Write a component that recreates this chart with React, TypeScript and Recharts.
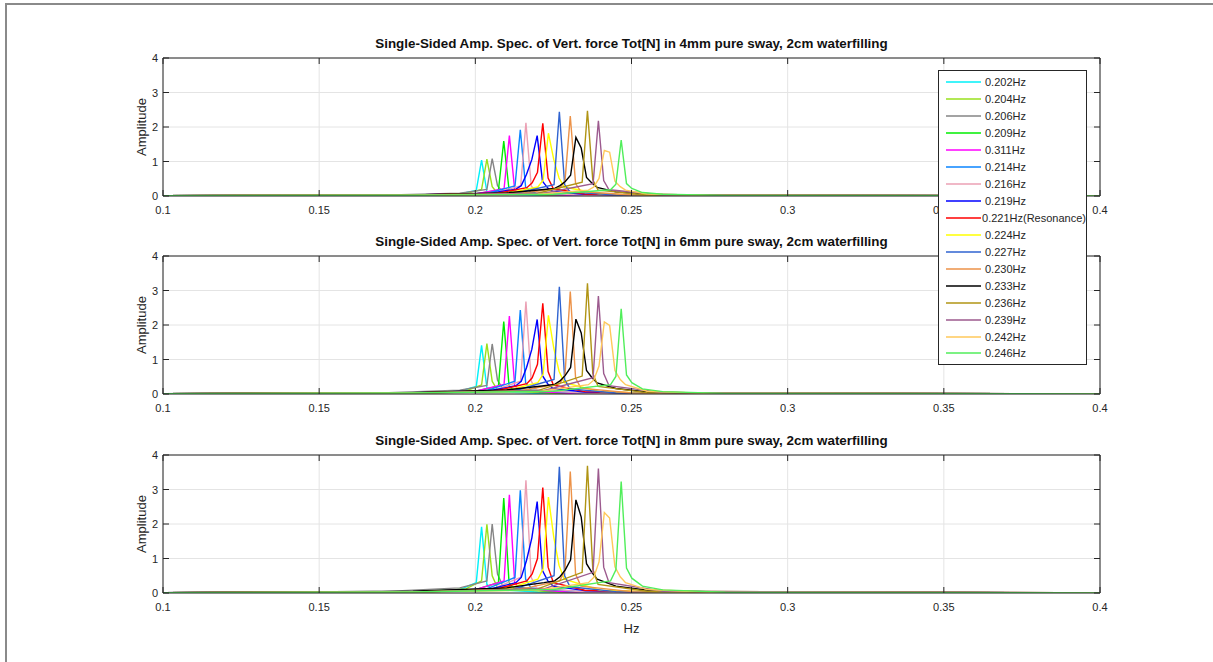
import { LineChart, Line, XAxis, YAxis, CartesianGrid, ReferenceLine } from 'recharts';

const SERIES_LABELS = [
  '0.202Hz', '0.204Hz', '0.206Hz', '0.209Hz', '0.311Hz', '0.214Hz', '0.216Hz', '0.219Hz',
  '0.221Hz(Resonance)', '0.224Hz', '0.227Hz', '0.230Hz', '0.233Hz', '0.236Hz', '0.239Hz',
  '0.242Hz', '0.246Hz',
];

const SERIES_COLORS = [
  '#00f0f8', '#99e01c', '#858585', '#00ee00', '#ff00ff', '#0a84ff', '#eba0b4', '#0000ff',
  '#ff0000', '#ffff00', '#2f63d0', '#ec9248', '#000000', '#b09414', '#9c5a8e', '#ffc85a', '#50ee5a',
];

// frequency samples (Hz) for each curve
const FREQ = [
  [0.1, 0.18, 0.195, 0.2003, 0.202, 0.2037, 0.2054, 0.22, 0.4],
  [0.1, 0.18, 0.197, 0.202, 0.2037, 0.2054, 0.2071, 0.225, 0.4],
  [0.1, 0.17, 0.195, 0.2037, 0.2054, 0.2071, 0.2088, 0.23, 0.4],
  [0.1, 0.18, 0.2, 0.2074, 0.2091, 0.2108, 0.2125, 0.23, 0.4],
  [0.1, 0.18, 0.2, 0.2092, 0.2109, 0.2126, 0.2143, 0.23, 0.4],
  [0.1, 0.18, 0.203, 0.2127, 0.2144, 0.2161, 0.2178, 0.235, 0.4],
  [0.1, 0.18, 0.205, 0.2145, 0.2162, 0.2179, 0.2196, 0.235, 0.4],
  [0.1, 0.18, 0.205, 0.213, 0.2147, 0.2164, 0.2181, 0.2198, 0.2215, 0.2232, 0.2249, 0.235, 0.26, 0.4],
  [0.1, 0.18, 0.207, 0.2165, 0.2182, 0.2199, 0.2216, 0.2233, 0.225, 0.235, 0.26, 0.4],
  [0.1, 0.18, 0.21, 0.22, 0.2217, 0.2234, 0.2251, 0.2268, 0.2285, 0.24, 0.26, 0.4],
  [0.1, 0.18, 0.212, 0.2252, 0.2269, 0.2286, 0.2303, 0.245, 0.4],
  [0.1, 0.18, 0.215, 0.227, 0.2287, 0.2304, 0.2321, 0.2338, 0.25, 0.4],
  [0.1, 0.18, 0.21, 0.222, 0.2254, 0.2271, 0.2288, 0.2305, 0.2322, 0.2339, 0.2356, 0.2373, 0.239, 0.245, 0.255, 0.28, 0.4],
  [0.1, 0.18, 0.22, 0.2342, 0.2359, 0.2376, 0.2393, 0.255, 0.4],
  [0.1, 0.18, 0.222, 0.2377, 0.2394, 0.2411, 0.2428, 0.26, 0.4],
  [0.1, 0.18, 0.22, 0.2362, 0.2379, 0.2396, 0.2413, 0.243, 0.2447, 0.2464, 0.2481, 0.255, 0.275, 0.4],
  [0.1, 0.18, 0.225, 0.2433, 0.245, 0.2467, 0.2484, 0.2501, 0.2535, 0.26, 0.28, 0.4],
];

const AMP_4MM = [
  [0.01, 0.02, 0.06, 0.16, 1.04, 0.13, 0.06, 0.02, 0.005],
  [0.01, 0.02, 0.07, 0.19, 1.07, 0.27, 0.08, 0.02, 0.005],
  [0.01, 0.02, 0.08, 0.19, 1.08, 0.3, 0.11, 0.02, 0.005],
  [0.01, 0.02, 0.06, 0.17, 1.59, 0.17, 0.07, 0.02, 0.005],
  [0.01, 0.02, 0.06, 0.21, 1.75, 0.18, 0.07, 0.02, 0.005],
  [0.01, 0.02, 0.06, 0.29, 1.92, 0.26, 0.1, 0.02, 0.005],
  [0.01, 0.02, 0.06, 0.29, 2.12, 0.29, 0.1, 0.02, 0.005],
  [0.01, 0.03, 0.08, 0.2, 0.3, 0.63, 1.06, 1.75, 0.43, 0.23, 0.13, 0.05, 0.015, 0.005],
  [0.01, 0.03, 0.08, 0.24, 0.38, 0.69, 2.11, 0.52, 0.21, 0.06, 0.015, 0.005],
  [0.01, 0.02, 0.08, 0.26, 0.46, 1.82, 1.06, 0.52, 0.26, 0.06, 0.015, 0.005],
  [0.01, 0.02, 0.06, 0.33, 2.44, 0.33, 0.12, 0.03, 0.005],
  [0.01, 0.02, 0.08, 0.23, 0.43, 2.32, 0.36, 0.13, 0.03, 0.005],
  [0.01, 0.03, 0.09, 0.19, 0.22, 0.3, 0.42, 0.6, 1.7, 1.39, 0.54, 0.38, 0.25, 0.12, 0.05, 0.015, 0.005],
  [0.01, 0.02, 0.08, 0.4, 2.47, 0.47, 0.17, 0.03, 0.005],
  [0.01, 0.02, 0.08, 0.36, 2.18, 0.45, 0.18, 0.03, 0.005],
  [0.01, 0.02, 0.05, 0.17, 0.26, 0.51, 1.32, 1.27, 0.43, 0.27, 0.17, 0.06, 0.015, 0.005],
  [0.01, 0.02, 0.05, 0.18, 0.34, 1.62, 0.36, 0.22, 0.1, 0.05, 0.015, 0.005],
];

const AMP_6MM = [
  [0.01, 0.03, 0.08, 0.22, 1.41, 0.18, 0.08, 0.02, 0.005],
  [0.01, 0.03, 0.09, 0.26, 1.46, 0.37, 0.11, 0.02, 0.005],
  [0.01, 0.03, 0.11, 0.25, 1.45, 0.4, 0.15, 0.03, 0.005],
  [0.01, 0.03, 0.08, 0.23, 2.1, 0.23, 0.09, 0.02, 0.005],
  [0.01, 0.03, 0.08, 0.28, 2.26, 0.24, 0.1, 0.02, 0.005],
  [0.01, 0.03, 0.08, 0.37, 2.43, 0.33, 0.12, 0.02, 0.005],
  [0.01, 0.03, 0.08, 0.37, 2.68, 0.37, 0.12, 0.02, 0.005],
  [0.01, 0.03, 0.1, 0.24, 0.37, 0.77, 1.3, 2.16, 0.53, 0.29, 0.16, 0.06, 0.015, 0.005],
  [0.01, 0.03, 0.1, 0.3, 0.47, 0.86, 2.63, 0.65, 0.26, 0.07, 0.015, 0.005],
  [0.01, 0.03, 0.1, 0.33, 0.57, 2.28, 1.34, 0.66, 0.33, 0.07, 0.015, 0.005],
  [0.01, 0.03, 0.08, 0.42, 3.11, 0.42, 0.15, 0.03, 0.005],
  [0.01, 0.03, 0.1, 0.3, 0.55, 2.97, 0.46, 0.17, 0.03, 0.005],
  [0.01, 0.04, 0.12, 0.24, 0.28, 0.38, 0.54, 0.77, 2.17, 1.77, 0.68, 0.48, 0.32, 0.16, 0.06, 0.015, 0.005],
  [0.01, 0.03, 0.1, 0.52, 3.21, 0.6, 0.22, 0.04, 0.005],
  [0.01, 0.03, 0.1, 0.47, 2.84, 0.59, 0.24, 0.04, 0.005],
  [0.01, 0.03, 0.07, 0.27, 0.4, 0.81, 2.09, 1.99, 0.68, 0.42, 0.27, 0.08, 0.015, 0.005],
  [0.01, 0.03, 0.08, 0.27, 0.51, 2.47, 0.55, 0.33, 0.15, 0.07, 0.015, 0.005],
];

const AMP_8MM = [
  [0.01, 0.03, 0.1, 0.3, 1.92, 0.25, 0.1, 0.03, 0.005],
  [0.01, 0.03, 0.12, 0.35, 1.99, 0.5, 0.15, 0.03, 0.005],
  [0.01, 0.04, 0.15, 0.35, 2.0, 0.55, 0.2, 0.04, 0.005],
  [0.01, 0.03, 0.1, 0.3, 2.75, 0.3, 0.12, 0.03, 0.005],
  [0.01, 0.03, 0.1, 0.35, 2.85, 0.3, 0.12, 0.03, 0.005],
  [0.01, 0.03, 0.1, 0.45, 2.98, 0.4, 0.15, 0.03, 0.005],
  [0.01, 0.03, 0.1, 0.45, 3.27, 0.45, 0.15, 0.03, 0.005],
  [0.01, 0.04, 0.12, 0.3, 0.45, 0.95, 1.6, 2.65, 0.65, 0.35, 0.2, 0.07, 0.02, 0.005],
  [0.01, 0.04, 0.12, 0.35, 0.55, 1.0, 3.06, 0.75, 0.3, 0.08, 0.02, 0.005],
  [0.01, 0.03, 0.12, 0.4, 0.7, 2.78, 1.63, 0.8, 0.4, 0.08, 0.02, 0.005],
  [0.01, 0.03, 0.1, 0.5, 3.66, 0.5, 0.18, 0.04, 0.005],
  [0.01, 0.03, 0.12, 0.35, 0.65, 3.52, 0.55, 0.2, 0.04, 0.005],
  [0.01, 0.05, 0.15, 0.3, 0.35, 0.47, 0.67, 0.96, 2.7, 2.2, 0.85, 0.6, 0.4, 0.2, 0.08, 0.02, 0.005],
  [0.01, 0.03, 0.12, 0.6, 3.69, 0.7, 0.25, 0.05, 0.005],
  [0.01, 0.03, 0.12, 0.6, 3.61, 0.75, 0.3, 0.05, 0.005],
  [0.01, 0.03, 0.08, 0.3, 0.45, 0.9, 2.33, 2.17, 0.76, 0.47, 0.3, 0.1, 0.02, 0.005],
  [0.01, 0.03, 0.1, 0.35, 0.67, 3.23, 0.72, 0.43, 0.2, 0.09, 0.02, 0.005],
];

const X_TICKS = [0.1, 0.15, 0.2, 0.25, 0.3, 0.35, 0.4];
const Y_TICKS = [0, 1, 2, 3, 4];

const PANELS = [
  { title: 'Single-Sided Amp. Spec. of Vert. force Tot[N] in 4mm pure sway, 2cm waterfilling', amps: AMP_4MM, plotTop: 58 },
  { title: 'Single-Sided Amp. Spec. of Vert. force Tot[N] in 6mm pure sway, 2cm waterfilling', amps: AMP_6MM, plotTop: 256 },
  { title: 'Single-Sided Amp. Spec. of Vert. force Tot[N] in 8mm pure sway, 2cm waterfilling', amps: AMP_8MM, plotTop: 455 },
];

const FONT = '"Liberation Sans", Arial, Helvetica, sans-serif';
const INK = '#262626';
const PLOT_LEFT = 163;
const PLOT_W = 937;
const PLOT_H = 138;
const Y_AXIS_W = 30;
const TOP_PAD = 20;
const X_AXIS_H = 26;
const CHART_W = 1213;
const CHART_H = TOP_PAD + PLOT_H + X_AXIS_H;

function YTick(props: any) {
  const { x, y, payload } = props;
  return (
    <g>
      <line x1={x} x2={x + 6} y1={y} y2={y} stroke={INK} />
      <line x1={x + PLOT_W - 6} x2={x + PLOT_W} y1={y} y2={y} stroke={INK} />
      <text x={x - 5} y={y} dy={4} textAnchor="end" fontSize={11} fontFamily={FONT} fill={INK}>
        {payload.value}
      </text>
    </g>
  );
}

function XTick(props: any) {
  const { x, y, payload } = props;
  return (
    <g>
      <line x1={x} x2={x} y1={y} y2={y - 6} stroke={INK} />
      <line x1={x} x2={x} y1={y - PLOT_H} y2={y - PLOT_H + 6} stroke={INK} />
      <text x={x} y={y + 18} textAnchor="middle" fontSize={11} fontFamily={FONT} fill={INK}>
        {String(payload.value)}
      </text>
    </g>
  );
}

function Panel({ title, amps, plotTop }: { title: string; amps: number[][]; plotTop: number }) {
  const series = FREQ.map((fs, i) => fs.map((f, j) => ({ f, a: amps[i][j] })));
  return (
    <>
      <div
        style={{
          position: 'absolute',
          left: PLOT_LEFT - 20,
          width: PLOT_W + 40,
          top: plotTop - 22,
          lineHeight: '16px',
          textAlign: 'center',
          fontFamily: FONT,
          fontWeight: 'bold',
          fontSize: 13.4,
          color: '#111',
          whiteSpace: 'nowrap',
        }}
      >
        {title}
      </div>
      <div
        style={{
          position: 'absolute',
          left: 142 - 50,
          width: 100,
          top: plotTop + PLOT_H / 2 - 8,
          lineHeight: '16px',
          textAlign: 'center',
          fontFamily: FONT,
          fontSize: 13,
          color: INK,
          transform: 'rotate(-90deg)',
        }}
      >
        Amplitude
      </div>
      <div style={{ position: 'absolute', left: 0, top: plotTop - TOP_PAD }}>
        <LineChart
          width={CHART_W}
          height={CHART_H}
          margin={{ top: TOP_PAD, right: CHART_W - PLOT_LEFT - PLOT_W, left: PLOT_LEFT - Y_AXIS_W, bottom: 0 }}
        >
          <CartesianGrid stroke="#e4e4e4" />
          <XAxis
            dataKey="f"
            type="number"
            domain={[0.1, 0.4]}
            ticks={X_TICKS}
            interval={0}
            allowDataOverflow
            height={X_AXIS_H}
            tickSize={0}
            tickMargin={0}
            tickLine={false}
            axisLine={{ stroke: INK }}
            tick={<XTick />}
          />
          <YAxis
            type="number"
            domain={[0, 4]}
            ticks={Y_TICKS}
            interval={0}
            allowDataOverflow
            width={Y_AXIS_W}
            tickSize={0}
            tickMargin={0}
            tickLine={false}
            axisLine={{ stroke: INK }}
            tick={<YTick />}
          />
          <ReferenceLine y={4} stroke={INK} />
          <ReferenceLine x={0.4} stroke={INK} />
          {series.map((pts, i) => (
            <Line
              key={SERIES_LABELS[i]}
              data={pts}
              dataKey="a"
              type="linear"
              stroke={SERIES_COLORS[i]}
              strokeWidth={1.4}
              dot={false}
              isAnimationActive={false}
            />
          ))}
        </LineChart>
      </div>
    </>
  );
}

export default function App() {
  return (
    <div style={{ position: 'absolute', left: 0, top: 0, width: 1213, height: 662, background: '#fff', overflow: 'hidden' }}>
      <div
        style={{
          position: 'absolute',
          left: 5,
          top: 3,
          width: 1213,
          height: 662,
          borderLeft: '2px solid #8a8a8a',
          borderTop: '2px solid #8a8a8a',
        }}
      />
      {PANELS.map((p) => (
        <Panel key={p.title} title={p.title} amps={p.amps} plotTop={p.plotTop} />
      ))}
      <div
        style={{
          position: 'absolute',
          left: PLOT_LEFT + PLOT_W / 2 - 30,
          width: 60,
          top: 621,
          lineHeight: '16px',
          textAlign: 'center',
          fontFamily: FONT,
          fontSize: 13,
          color: INK,
        }}
      >
        Hz
      </div>
      <div
        style={{
          position: 'absolute',
          left: 938,
          top: 70,
          width: 149,
          height: 295,
          background: '#fff',
          border: '1px solid #262626',
          fontFamily: FONT,
          fontSize: 11,
          color: INK,
          paddingTop: 3,
          boxSizing: 'border-box',
        }}
      >
        {SERIES_LABELS.map((label, i) => (
          <div key={label} style={{ display: 'flex', alignItems: 'center', height: 16.94 }}>
            <svg width={44} height={4} style={{ marginLeft: 7, marginRight: 3 }}>
              <line x1={0} x2={35} y1={2} y2={2} stroke={SERIES_COLORS[i]} strokeWidth={1.5} />
            </svg>
            <span style={{ marginLeft: -8 }}>{label}</span>
          </div>
        ))}
      </div>
    </div>
  );
}
